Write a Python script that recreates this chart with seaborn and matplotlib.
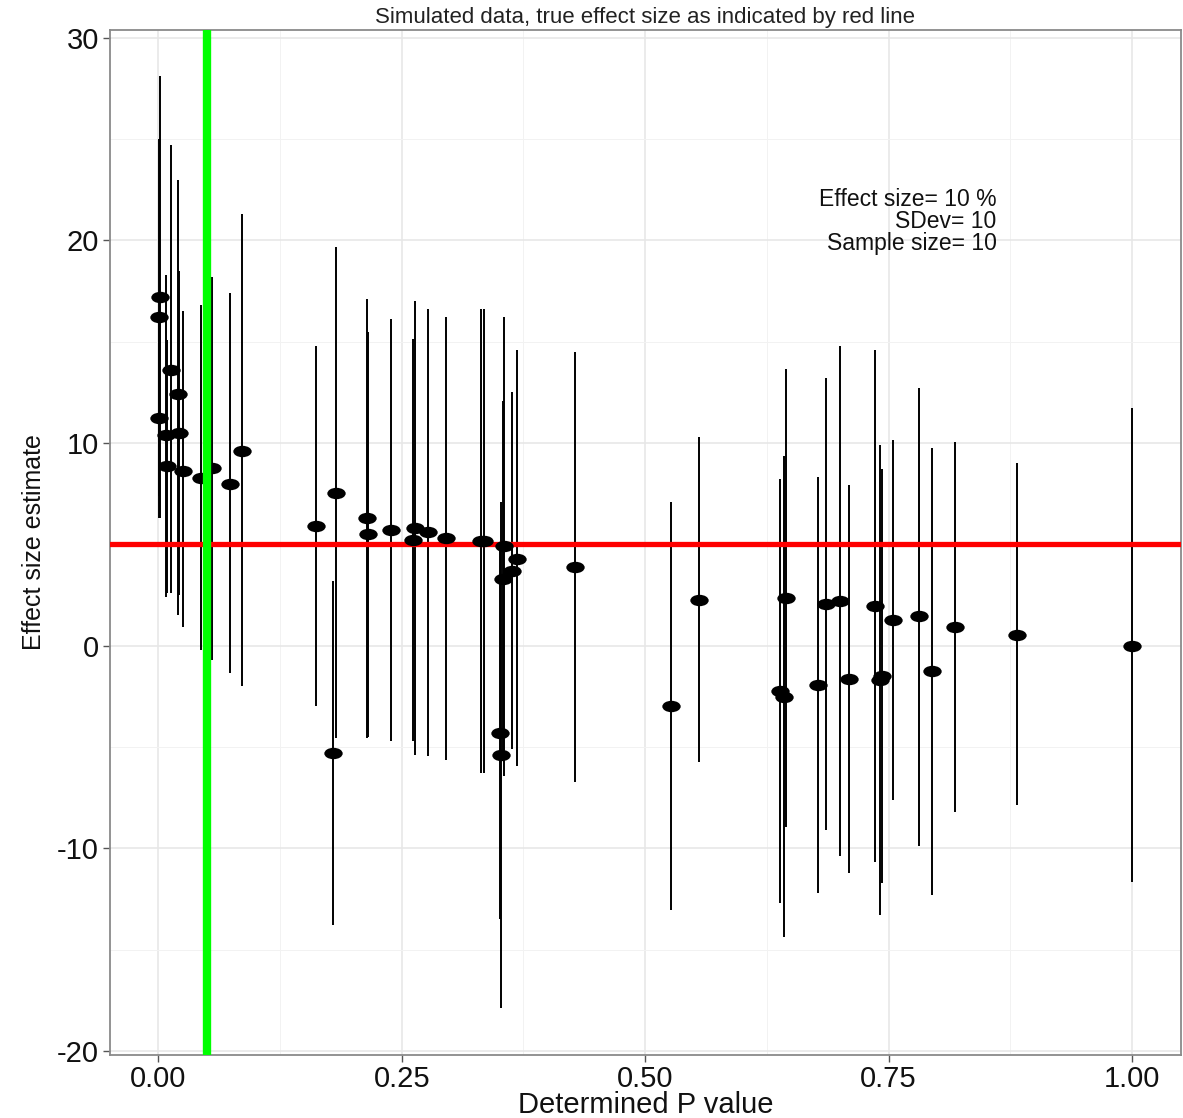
import numpy as np
import pandas as pd
import matplotlib
matplotlib.use("Agg")
import matplotlib.pyplot as plt
import seaborn as sns
from matplotlib.path import Path

# ---- data ----
p_value = [0.0003, 0.0005, 0.002, 0.008, 0.009, 0.0133, 0.0202, 0.021, 0.0253,
           0.0438, 0.055, 0.0738, 0.0854,
           0.162, 0.179, 0.1826, 0.2147, 0.2150, 0.239, 0.262, 0.2636, 0.2766,
           0.295, 0.331, 0.3347, 0.351, 0.3515, 0.354, 0.3552, 0.3628, 0.3685,
           0.428, 0.527, 0.555,
           0.6387, 0.643, 0.6446, 0.677, 0.686, 0.700, 0.7098, 0.7357, 0.7415,
           0.7433, 0.7549, 0.7808, 0.7941, 0.8185, 0.8824, 1.0]
estimate = [16.2, 11.25, 17.2, 10.4, 8.86, 13.6, 12.4, 10.5, 8.6,
            8.3, 8.75, 8.0, 9.6,
            5.9, -5.3, 7.55, 6.3, 5.5, 5.7, 5.2, 5.8, 5.6,
            5.3, 5.15, 5.15, -4.3, -5.4, 3.3, 4.9, 3.7, 4.3,
            3.9, -3.0, 2.25,
            -2.25, -2.53, 2.37, -1.95, 2.05, 2.2, -1.63, 1.95, -1.71,
            -1.5, 1.25, 1.45, -1.27, 0.93, 0.55, 0.0]
ci_low = [7.4, 6.3, 6.3, 2.4, 2.6, 2.6, 1.5, 2.5, 0.9,
          -0.2, -0.7, -1.35, -2.0,
          -3.0, -13.8, -4.55, -4.55, -4.5, -4.7, -4.7, -5.4, -5.43,
          -5.63, -6.3, -6.3, -13.5, -17.9, -5.5, -6.45, -5.1, -5.96,
          -6.74, -13.07, -5.73,
          -12.68, -14.4, -8.93, -12.2, -9.09, -10.4, -11.2, -10.7, -13.3,
          -11.7, -7.6, -9.87, -12.3, -8.19, -7.86, -11.64]
ci_high = [25.0, 16.2, 28.1, 18.3, 15.1, 24.7, 23.0, 18.5, 16.5,
           16.8, 18.2, 17.4, 21.3,
           14.8, 3.2, 19.7, 17.1, 15.5, 16.1, 15.15, 17.0, 16.6,
           16.2, 16.6, 16.6, 4.9, 7.1, 12.1, 16.2, 12.5, 14.6,
           14.5, 7.1, 10.28,
           8.23, 9.35, 13.67, 8.32, 13.2, 14.8, 7.95, 14.6, 9.88,
           8.7, 10.13, 12.73, 9.77, 10.06, 9.02, 11.74]

true_effect = 5.0
alpha = 0.05
x_ticks = [0.00, 0.25, 0.50, 0.75, 1.00]
x_tick_labels = ["0.00", "0.25", "0.50", "0.75", "1.00"]
y_ticks = [-20, -10, 0, 10, 20, 30]
y_tick_labels = ["-20", "-10", "0", "10", "20", "30"]
title = "Simulated data, true effect size as indicated by red line"
x_label = "Determined P value"
y_label = "Effect size estimate"
note = "Effect size= 10 %\nSDev= 10\nSample size= 10"

df = pd.DataFrame({"p": p_value, "est": estimate, "lo": ci_low, "hi": ci_high})

# ---- style ----
sns.set_theme(style="white")
plt.rcParams["font.family"] = ["Liberation Sans", "DejaVu Sans"]
plt.rcParams["axes.unicode_minus"] = False

fig = plt.figure(figsize=(11.83, 11.18), dpi=100)
ax = fig.add_axes([0.093, 0.0564, 0.905, 0.917])

# ggplot-like 5% expansion
xr = max(df.p) - min(df.p)
ax.set_xlim(min(df.p) - 0.05 * xr, max(df.p) + 0.05 * xr)
yr = max(df.hi) - min(df.lo)
ax.set_ylim(min(df.lo) - 0.05 * yr, max(df.hi) + 0.05 * yr)

ax.set_xticks(x_ticks)
ax.set_xticklabels(x_tick_labels)
ax.set_yticks(y_ticks)
ax.set_yticklabels(y_tick_labels)
ax.set_xticks([0.125, 0.375, 0.625, 0.875], minor=True)
ax.set_yticks([-15, -5, 5, 15, 25], minor=True)
ax.grid(True, which="major", color="#E6E6E6", linewidth=1.1, zorder=0)
ax.grid(True, which="minor", color="#F2F2F2", linewidth=0.7, zorder=0)
ax.set_axisbelow(True)

# error bars
ax.vlines(df.p, df.lo, df.hi, color="black", linewidth=1.4, zorder=2)
# true effect line
ax.axhline(true_effect, color="#FF0000", linewidth=3.8, zorder=3)
# points (ellipses, as in the stretched original)
circ = Path.unit_circle()
ell = Path(circ.vertices * np.array([1.0, 0.62]), circ.codes)
sns.scatterplot(data=df, x="p", y="est", marker=ell, s=175, color="black",
                linewidth=0, ax=ax, zorder=4, legend=False)
# significance threshold
ax.axvline(alpha, color="#00FF00", linewidth=6, zorder=5)

ax.text(0.861, 22.6, note, ha="right", va="top", multialignment="right",
        fontsize=16.5, linespacing=0.95, color="#111111", zorder=6)

ax.set_title(title, fontsize=16, pad=5, color="#222222")
ax.set_xlabel(x_label, fontsize=21, labelpad=-1, color="#111111")
ax.set_ylabel(y_label, fontsize=18, labelpad=8, color="#111111")
ax.tick_params(axis="both", which="major", labelsize=21, length=5, width=1,
               color="#555555", labelcolor="#111111", pad=3, bottom=True, left=True)
ax.tick_params(axis="x", which="major", pad=2)
ax.tick_params(axis="both", which="minor", length=0)

for s in ax.spines.values():
    s.set_color("#8a8a8a")
    s.set_linewidth(1.3)

fig.savefig("out.png", dpi=100)
